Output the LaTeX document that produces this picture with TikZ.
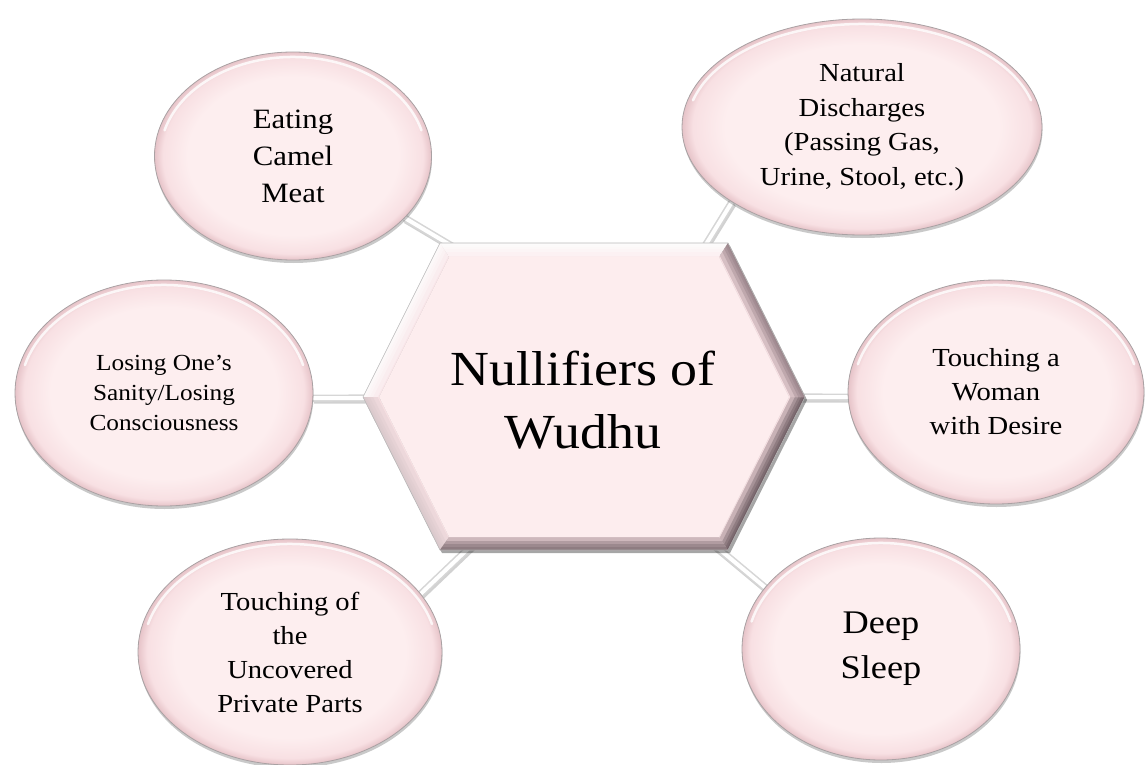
\documentclass[tikz,border=0pt]{standalone}
\usepackage{fontspec}
\setmainfont[FakeStretch=1.1]{Liberation Serif}
\usetikzlibrary{shapes.geometric,shadows}
\pgfdeclarelayer{background}
\pgfsetlayers{background,main}
\definecolor{pk1}{HTML}{FDEEEF}
\definecolor{pk2}{HTML}{F8E0E3}
\definecolor{pk3}{HTML}{E6C3C8}
\definecolor{rim}{HTML}{A9A1A3}
\definecolor{hxin}{HTML}{FDEDEE}
\definecolor{edgeA}{HTML}{6E5E63}
\definecolor{edgeB}{HTML}{5A4A50}
\definecolor{edgeC}{HTML}{8A767C}
\definecolor{edgeD}{HTML}{D6C6C9}
\pgfdeclareradialshading{ellshade}{\pgfpoint{0bp}{0bp}}{color(0bp)=(pk1); color(19bp)=(pk1); color(23.5bp)=(pk2); color(25bp)=(pk3); color(50bp)=(pk3)}
\tikzset{
  bubble/.style={ellipse, draw=rim, line width=0.8pt, shade, shading=ellshade,
    inner sep=0pt, align=center, text=black,
    drop shadow={shadow xshift=0.5pt, shadow yshift=-3pt, opacity=0.3, fill=black!70}},
  rimhl/.style={draw=white, line width=2.5pt, opacity=0.8, line cap=round},
  conn/.style={draw=black!16, line width=1.6pt, double=white, double distance=4pt},
  connsh/.style={draw=black!40, line width=7pt, opacity=0.45, transform canvas={shift={(1pt,-2pt)}}},
  bevelstroke/.style={line width=#1pt, opacity=0.3},
}
\newcommand\rimlight[3]{\draw[rimhl] (#1.center) ++(195:{#2-5} and {#3-5}) arc[start angle=195,end angle=345,x radius=#2-5,y radius=#3-5];}
\newcommand\bevelface[6]{%
  \begin{scope}
    \clip (#1) -- (#2) -- (#3) -- (#4) -- cycle;
    \fill[#5] (#1) -- (#2) -- (#3) -- (#4) -- cycle;
    \foreach \w in {26,18,12,7,3} {\draw[#6, bevelstroke=\w] (#1) -- (#2);}
  \end{scope}}
\begin{document}
\begin{tikzpicture}[x=1pt,y=-1pt]
\useasboundingbox (0,0) rectangle (1146,765);

% satellite bubbles
\node[bubble, minimum width=277pt, minimum height=208pt, font=\fontsize{28}{37}\selectfont] (cam) at (293,156) {Eating\\Camel\\Meat};
\node[bubble, minimum width=360pt, minimum height=216pt, font=\fontsize{26}{34.5}\selectfont] (nat) at (862,127) {Natural\\Discharges\\(Passing Gas,\\Urine, Stool, etc.)};
\node[bubble, minimum width=298pt, minimum height=226pt, font=\fontsize{23}{30}\selectfont] (lose) at (164,393) {Losing One’s\\Sanity/Losing\\Consciousness};
\node[bubble, minimum width=296pt, minimum height=224pt, font=\fontsize{26}{34}\selectfont] (wom) at (996,392) {Touching a\\Woman\\with Desire};
\node[bubble, minimum width=304pt, minimum height=226pt, font=\fontsize{26}{34}\selectfont] (unc) at (290,652) {Touching of\\the\\Uncovered\\Private Parts};
\node[bubble, minimum width=278pt, minimum height=222pt, font=\fontsize{33}{45}\selectfont] (slp) at (881,649) {Deep\\Sleep};

\rimlight{cam}{138}{104}
\rimlight{nat}{180}{108}
\rimlight{lose}{149}{113}
\rimlight{wom}{148}{112}
\rimlight{unc}{152}{113}
\rimlight{slp}{139}{111}

% hexagon geometry
\coordinate (o1) at (440,243); \coordinate (o2) at (728,243); \coordinate (o3) at (805,397);
\coordinate (o4) at (728,550); \coordinate (o5) at (440,550); \coordinate (o6) at (363,397);
\coordinate (i1) at (449,257); \coordinate (i2) at (719,257); \coordinate (i3) at (789,397);
\coordinate (i4) at (719,537); \coordinate (i5) at (449,537); \coordinate (i6) at (379,397);

% connector ends inside the hexagon
\coordinate (hx1) at (462,252);
\coordinate (hx2) at (700,254);
\coordinate (hx3) at (380,398);
\coordinate (hx4) at (790,397);
\coordinate (hx5) at (473,544);
\coordinate (hx6) at (713,544);

\begin{pgfonlayer}{background}
  \draw[connsh] (cam.-29.6) -- (hx1);
  \draw[connsh] (nat.210.5) -- (hx2);
  \draw[connsh] (lose.-2) -- (hx3);
  \draw[connsh] (wom.182) -- (hx4);
  \draw[connsh] (unc.24.6) -- (hx5);
  \draw[connsh] (slp.152.7) -- (hx6);
  \draw[conn] (cam.-29.6) -- (hx1);
  \draw[conn] (nat.210.5) -- (hx2);
  \draw[conn] (lose.-2) -- (hx3);
  \draw[conn] (wom.182) -- (hx4);
  \draw[conn] (unc.24.6) -- (hx5);
  \draw[conn] (slp.152.7) -- (hx6);
\end{pgfonlayer}

% hexagon shadow
\fill[black, opacity=0.35, transform canvas={shift={(2pt,-3pt)}}] (o1) -- (o2) -- (o3) -- (o4) -- (o5) -- (o6) -- cycle;
% bevel faces
\bevelface{o1}{o2}{i2}{i1}{pk2!60}{white}
\bevelface{o6}{o1}{i1}{i6}{pk2!80}{white}
\bevelface{o5}{o6}{i6}{i5}{pk2}{edgeD}
\bevelface{o4}{o5}{i5}{i4}{pk2}{edgeA}
\bevelface{o3}{o4}{i4}{i3}{pk2}{edgeB}
\bevelface{o2}{o3}{i3}{i2}{pk2}{edgeC}
\fill[hxin] (i1) -- (i2) -- (i3) -- (i4) -- (i5) -- (i6) -- cycle;
\draw[black!28, line width=0.6pt] (o1) -- (o2) -- (o3) -- (o4) -- (o5) -- (o6) -- cycle;

\node[font=\fontsize{49}{63}\selectfont, align=center, inner sep=0pt] (hub) at (583,400) {Nullifiers of\\Wudhu};
\end{tikzpicture}
\end{document}
